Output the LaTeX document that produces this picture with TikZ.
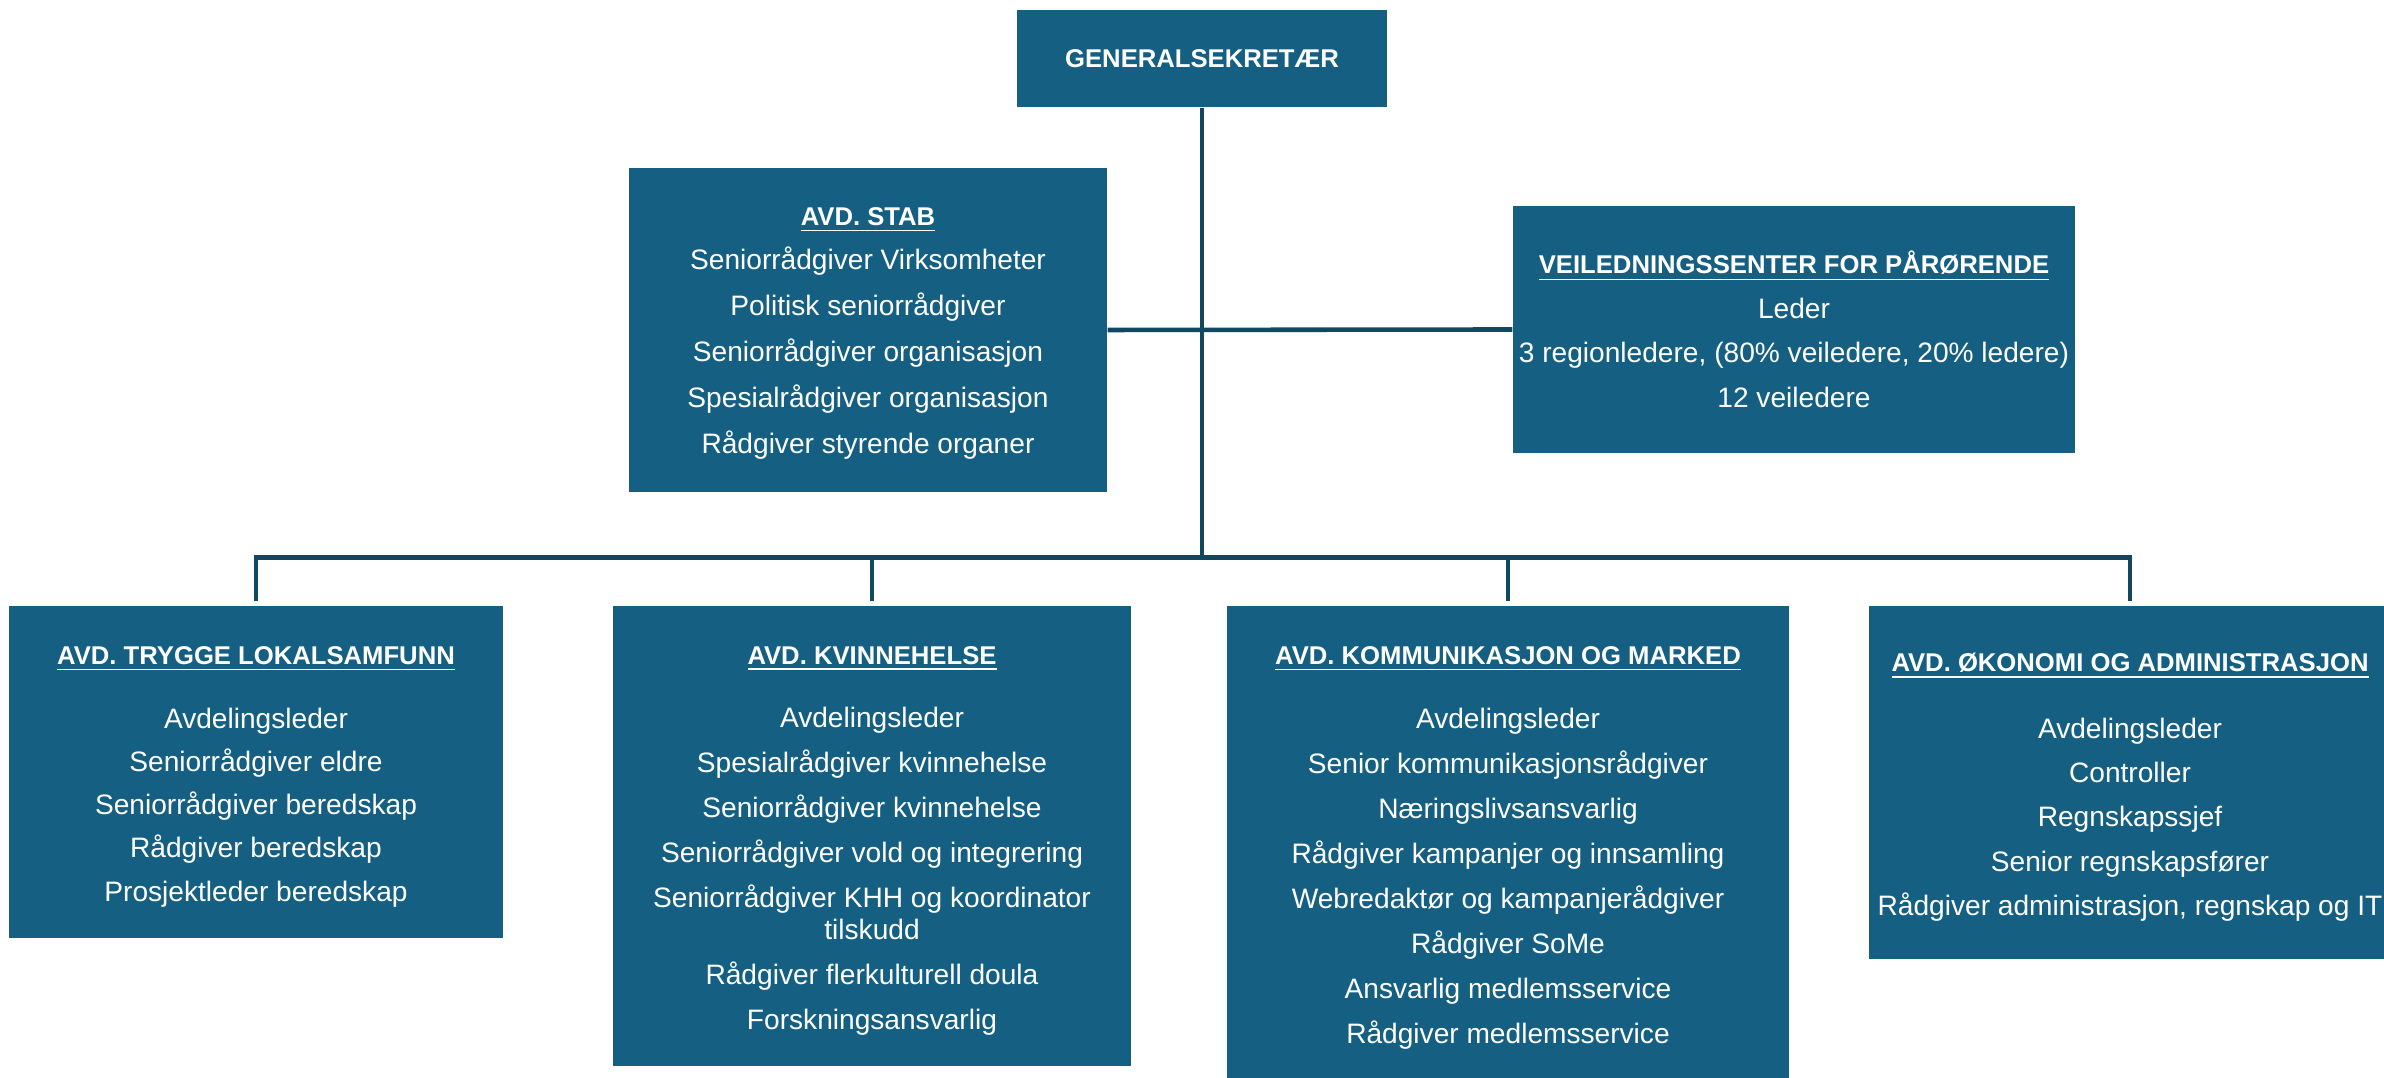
\documentclass[tikz,border=0pt]{standalone}
\usepackage{fontspec}
\setmainfont{Liberation Sans}
\usepackage{tikz}
\definecolor{orgblue}{RGB}{21, 96, 130}
\definecolor{orgline}{RGB}{16, 72, 98}
\tikzset{
    orgbox/.style={rectangle, fill=orgblue, text=white, inner sep=0pt, align=center, font=\fontsize{8}{9.1}\selectfont},
    orglink/.style={draw=orgline, line width=1.3pt}
}
\newcommand{\boxtitle}[2][7.8pt]{{\rule{0pt}{#1}\fontsize{7.3}{9.1}\selectfont\bfseries\underline{#2}}}

\begin{document}
\begin{tikzpicture}
                    \useasboundingbox (0,0) rectangle (23.84,-10.78);
                    \node[orgbox, minimum width=3.70cm, minimum height=0.97cm] (gen) at (12.02,-0.585) {{\fontsize{7.3}{9.1}\selectfont\bfseries GENERALSEKRETÆR}};
                    \node[orgbox, minimum width=4.78cm, minimum height=3.24cm] (stab) at (8.68,-3.30) {\boxtitle[7pt]{AVD. STAB}\\[3.4pt] Seniorrådgiver Virksomheter\\[4pt] Politisk seniorrådgiver\\[4pt] Seniorrådgiver organisasjon\\[4pt] Spesialrådgiver organisasjon\\[4pt] Rådgiver styrende organer};
                    \node[orgbox, minimum width=5.62cm, minimum height=2.47cm] (veil) at (17.94,-3.295) {\boxtitle[0pt]{VEILEDNINGSSENTER FOR PÅRØRENDE}\\[3.6pt] Leder\\[3.6pt] 3 regionledere, (80\% veiledere, 20\% ledere)\\[3.6pt] 12 veiledere};
                    \node[orgbox, minimum width=4.94cm, minimum height=3.32cm] (trygge) at (2.56,-7.72) {\boxtitle{AVD. TRYGGE LOKALSAMFUNN}\\[9pt] Avdelingsleder\\[3.2pt] Seniorrådgiver eldre\\[3.2pt] Seniorrådgiver beredskap\\[3.2pt] Rådgiver beredskap\\[3.2pt] Prosjektleder beredskap};
                    \node[orgbox, minimum width=5.18cm, minimum height=4.60cm] (kvinne) at (8.72,-8.36) {\boxtitle{AVD. KVINNEHELSE}\\[9pt] Avdelingsleder\\[3.7pt] Spesialrådgiver kvinnehelse\\[3.7pt] Seniorrådgiver kvinnehelse\\[3.7pt] Seniorrådgiver vold og integrering\\[3.7pt] Seniorrådgiver KHH og koordinator\\ tilskudd\\[3.7pt] Rådgiver flerkulturell doula\\[3.7pt] Forskningsansvarlig};
                    \node[orgbox, minimum width=5.62cm, minimum height=4.74cm] (komm) at (15.08,-8.43) {\boxtitle{AVD. KOMMUNIKASJON OG MARKED}\\[9pt] Avdelingsleder\\[3.7pt] Senior kommunikasjonsrådgiver\\[3.7pt] Næringslivsansvarlig\\[3.7pt] Rådgiver kampanjer og innsamling\\[3.7pt] Webredaktør og kampanjerådgiver\\[3.7pt] Rådgiver SoMe\\[3.7pt] Ansvarlig medlemsservice\\[3.7pt] Rådgiver medlemsservice};
                    \node[orgbox, minimum width=5.22cm, minimum height=3.53cm] (okon) at (21.30,-7.825) {\boxtitle{AVD. ØKONOMI OG ADMINISTRASJON}\\[10pt] Avdelingsleder\\[3.5pt] Controller\\[3.5pt] Regnskapssjef\\[3.5pt] Senior regnskapsfører\\[3.5pt] Rådgiver administrasjon, regnskap og IT};
                    
                    \coordinate (bus) at (12.01,-5.575);
                    \draw[orglink] (gen.south) -- (gen.south |- bus);
                    \draw[orglink] (stab.east) -- (veil.west);
                    \foreach \dept in {trygge, kvinne, komm, okon}
                        \draw[orglink] (gen.south |- bus) -| ([yshift=0.04cm]\dept.north);
                \end{tikzpicture}
\end{document}
